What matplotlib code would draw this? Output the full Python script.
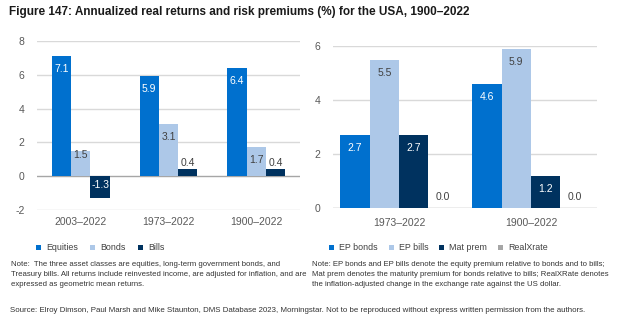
import matplotlib
matplotlib.use("Agg")
import matplotlib.pyplot as plt
from matplotlib.patches import Patch
import numpy as np

plt.rcParams['font.family'] = ['Liberation Sans', 'DejaVu Sans']

# Left panel: annualized real returns
periods_left = ["2003–2022", "1973–2022", "1900–2022"]
equities = [7.1, 5.9, 6.4]
bonds = [1.5, 3.1, 1.7]
bills = [-1.3, 0.4, 0.4]
left_series = ["Equities", "Bonds", "Bills"]
left_ticks = [-2, 0, 2, 4, 6, 8]

# Right panel: risk premiums
periods_right = ["1973–2022", "1900–2022"]
ep_bonds = [2.7, 4.6]
ep_bills = [5.5, 5.9]
mat_prem = [2.7, 1.2]
real_xrate = [0.0, 0.0]
right_series = ["EP bonds", "EP bills", "Mat prem", "RealXrate"]
right_ticks = [0, 2, 4, 6]

C_EQ = "#0070CE"
C_LIGHT = "#ADC8E8"
C_NAVY = "#00325F"
C_GREY = "#A6A6A6"
TXT = "#595959"

fig = plt.figure(figsize=(6.24, 3.30), dpi=100)
fig.patch.set_facecolor("white")

px = 0.72  # points per pixel at 100 dpi


def style_axes(ax, ticks):
    for s in ax.spines.values():
        s.set_visible(False)
    ax.set_yticks(ticks)
    ax.set_yticklabels([f"{t:g}" for t in ticks])
    ax.tick_params(axis="both", length=0, labelsize=7.5, colors=TXT)
    ax.tick_params(axis="y", pad=9)
    ax.tick_params(axis="x", pad=5)
    for t in ticks:
        ax.axhline(t, color="#A6A6A6" if t == 0 else "#D9D9D9", lw=1, zorder=0)


def label_bars(ax, bars, values, colors, inside):
    for b, v, c, ins in zip(bars, values, colors, inside):
        x = b.get_x() + b.get_width() / 2
        dark = c in (C_EQ, C_NAVY)
        if ins == "in":
            off = -13 if v >= 0 else 13
            col = "white" if dark else "#404040"
        elif ins == "near":
            off = -4
            col = "#404040"
        else:
            off = 6 if v > 0 else 11
            col = "#404040"
        ax.annotate(f"{v:.1f}", (x, v), xytext=(0, off * px), textcoords="offset points",
                    ha="center", va="center", fontsize=7.5, color=col)


# ---- left panel ----
axl = fig.add_axes([37 / 624, 1 - 210 / 330, 263 / 624, 169 / 330])
style_axes(axl, left_ticks)
xl = np.arange(len(periods_left))
w = 0.22
left_vals = [equities, bonds, bills]
left_cols = [C_EQ, C_LIGHT, C_NAVY]
left_pos = [["in", "in", "in"], ["near", "in", "in"], ["in", "above", "above"]]
for j, (vals, col, pos) in enumerate(zip(left_vals, left_cols, left_pos)):
    bars = axl.bar(xl + (j - 1) * w, vals, w, color=col, zorder=2, label=left_series[j])
    label_bars(axl, bars, vals, [col] * len(vals), pos)
axl.set_xlim(-0.5, 2.5)
axl.set_ylim(-2, 8)
axl.set_xticks(xl)
axl.set_xticklabels(periods_left)

# ---- right panel ----
axr = fig.add_axes([333 / 624, 1 - 208 / 330, 264 / 624, 162 / 330])
style_axes(axr, right_ticks)
xr = np.arange(len(periods_right))
wr = 0.223
right_vals = [ep_bonds, ep_bills, mat_prem, real_xrate]
right_cols = [C_EQ, C_LIGHT, C_NAVY, C_GREY]
right_pos = [["in", "in"], ["in", "in"], ["in", "in"], ["above", "above"]]
for j, (vals, col, pos) in enumerate(zip(right_vals, right_cols, right_pos)):
    bars = axr.bar(xr + (j - 1.5) * wr, vals, wr, color=col, zorder=2)
    label_bars(axr, bars, vals, [col] * len(vals), pos)
axr.set_xlim(-0.5, 1.5)
axr.set_ylim(0, 6)
axr.set_xticks(xr)
axr.set_xticklabels(periods_right)
axr.tick_params(axis="x", pad=7)

# ---- legends ----
def legend(names, cols, x, y, spacing):
    handles = [Patch(facecolor=c, edgecolor="none") for c in cols]
    fig.legend(handles, names, loc="center left", bbox_to_anchor=(x / 624, 1 - y / 330),
               ncol=len(names), frameon=False, fontsize=6.4, handlelength=0.6,
               handleheight=0.6, handletextpad=0.55, columnspacing=spacing,
               labelcolor="#404040", borderaxespad=0, borderpad=0)

legend(left_series, left_cols, 36, 248, 1.35)
legend(right_series, right_cols, 329, 248, 1.2)

# ---- title, notes and source ----
fig.text(9 / 624, 1 - 12 / 330,
         "Figure 147: Annualized real returns and risk premiums (%) for the USA, 1900–2022",
         fontsize=8.5, fontweight="bold", color="#1a1a1a", va="center", ha="left")

note_left = ("Note:  The three asset classes are equities, long-term government bonds, and\n"
             "Treasury bills. All returns include reinvested income, are adjusted for inflation, and are\n"
             "expressed as geometric mean returns.")
note_right = ("Note: EP bonds and EP bills denote the equity premium relative to bonds and to bills;\n"
              "Mat prem denotes the maturity premium for bonds relative to bills; RealXRate denotes\n"
              "the inflation-adjusted change in the exchange rate against the US dollar.")
fig.text(11 / 624, 1 - 261 / 330, note_left, fontsize=5.6, color="#333333",
         va="top", ha="left", linespacing=1.6)
fig.text(312 / 624, 1 - 261 / 330, note_right, fontsize=5.6, color="#333333",
         va="top", ha="left", linespacing=1.6)
fig.text(10 / 624, 1 - 310 / 330,
         "Source: Elroy Dimson, Paul Marsh and Mike Staunton, DMS Database 2023, Morningstar. "
         "Not to be reproduced without express written permission from the authors.",
         fontsize=5.7, color="#333333", va="center", ha="left")

fig.savefig("out.png", dpi=100, facecolor="white")
